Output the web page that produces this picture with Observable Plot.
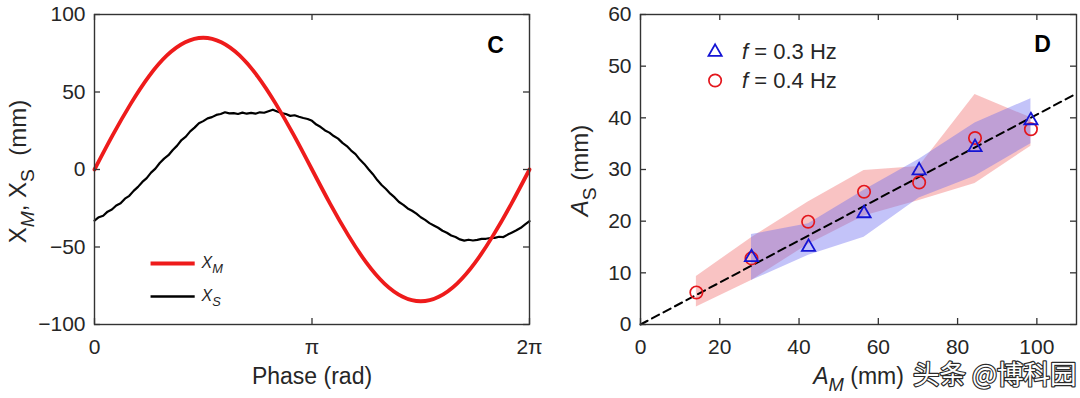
<!DOCTYPE html>
<html>
<head>
<meta charset="utf-8">
<script src="https://cdn.jsdelivr.net/npm/d3@7"></script>
<script src="https://cdn.jsdelivr.net/npm/@observablehq/plot@0.6"></script>
<style>
  body { margin: 0; background: #fff; }
  #wrap { position: relative; width: 1080px; height: 398px; overflow: hidden; background: #fff; }
  #wrap svg { position: absolute; top: 0; }
</style>
</head>
<body>
<div id="wrap"></div>
<script>
// ---------------- Panel C data (phase in units of π) ----------------
const phaseM = [0, 0.083, 0.167, 0.25, 0.333, 0.417, 0.5, 0.583, 0.667, 0.75, 0.833, 0.917, 1,
                1.083, 1.167, 1.25, 1.333, 1.417, 1.5, 1.583, 1.667, 1.75, 1.833, 1.917, 2];
const xM = [0, 22, 42.5, 60.1, 73.6, 82.1, 85, 82.1, 73.6, 60.1, 42.5, 22, 0,
            -22, -42.5, -60.1, -73.6, -82.1, -85, -82.1, -73.6, -60.1, -42.5, -22, 0];

const phaseS = [0, 0.02, 0.04, 0.06, 0.08, 0.10, 0.12, 0.14, 0.16, 0.18, 0.20, 0.22, 0.24, 0.26, 0.28, 0.30,
  0.32, 0.34, 0.36, 0.38, 0.40, 0.42, 0.44, 0.46, 0.48, 0.50, 0.52, 0.54, 0.56, 0.58, 0.60, 0.62, 0.64, 0.66,
  0.68, 0.70, 0.72, 0.74, 0.76, 0.78, 0.80, 0.82, 0.84, 0.86, 0.88, 0.90, 0.92, 0.94, 0.96, 0.98, 1.00,
  1.02, 1.04, 1.06, 1.08, 1.10, 1.12, 1.14, 1.16, 1.18, 1.20, 1.22, 1.24, 1.26, 1.28, 1.30, 1.32, 1.34,
  1.36, 1.38, 1.40, 1.42, 1.44, 1.46, 1.48, 1.50, 1.52, 1.54, 1.56, 1.58, 1.60, 1.62, 1.64, 1.66, 1.68,
  1.70, 1.72, 1.74, 1.76, 1.78, 1.80, 1.82, 1.84, 1.86, 1.88, 1.90, 1.92, 1.94, 1.96, 1.98, 2.00];
const xS = [-33.0, -30.8, -29.8, -27.2, -25.8, -23.2, -21.8, -18.8, -17.0, -13.8, -11.2, -8.0, -5.6, -2.0, 0.6, 4.2,
  7.0, 9.2, 12.6, 15.4, 19.0, 21.2, 24.6, 27.0, 29.8, 31.2, 33.0, 33.8, 35.2, 35.8, 36.9, 36.2, 36.4, 35.8,
  36.7, 36.0, 36.5, 36.0, 36.9, 36.6, 37.6, 38.6, 37.4, 36.4, 35.8, 34.6, 35.0, 34.0, 33.2, 32.6, 31.4,
  29.0, 27.4, 25.2, 23.8, 21.6, 19.9, 17.2, 15.1, 12.2, 9.9, 6.4, 3.6, 0.2, -3.0, -6.8, -10.0, -12.6,
  -15.6, -18.0, -21.0, -22.8, -25.1, -26.6, -28.5, -30.8, -32.5, -34.6, -36.1, -37.6, -39.5, -40.8, -42.6, -43.6, -45.1,
  -45.9, -45.3, -45.8, -45.4, -44.8, -44.7, -44.2, -44.1, -43.4, -43.6, -42.0, -40.6, -39.2, -37.6, -35.4, -33.3];

const phaseTicks = [0, 1, 2];
const phaseTickLabels = ["0", "π", "2π"];
const yTicksC = [-100, -50, 0, 50, 100];

// ---------------- Panel D data ----------------
const aM03 = [28, 42.4, 56.4, 70.3, 84.4, 98.5];
const aS03 = [13.0, 15.0, 21.5, 29.8, 34.3, 39.5];
const aS03lo = [8.5, 13.4, 16.9, 24.5, 28.7, 35.0];
const aS03hi = [17.4, 19.5, 26.0, 32.0, 39.0, 43.7];

const aM04 = [14.1, 28, 42.3, 56.4, 70.3, 84.4, 98.5];
const aS04 = [6.2, 12.8, 19.9, 25.7, 27.5, 36.1, 37.8];
const aS04lo = [3.4, 8.5, 15.5, 21.0, 24.0, 27.3, 34.5];
const aS04hi = [9.3, 16.8, 23.7, 29.8, 30.6, 44.5, 40.0];

const fitX = [0, 110];
const fitY = [0, 44.7];

const xTicksD = [0, 20, 40, 60, 80, 100];
const yTicksD = [0, 10, 20, 30, 40, 50, 60];

// ---------------- styling ----------------
const font = "'Liberation Sans', Arial, Helvetica, sans-serif";
const ink = "#262626";
const frameInk = "#333";
const H = 398, MT = 14, MB = 74;
const innerH = H - MT - MB;

// Rich text: *...* italic, _{...} subscript
function richify(el) {
  const src = el.textContent;
  const cs = getComputedStyle(el);
  const fs = parseFloat(cs.fontSize) || 21;
  const anchor = cs.textAnchor;
  el.textContent = "";
  let italic = false, sub = false, buf = "";
  const segs = [];
  const flush = () => { if (buf) { segs.push({t: buf, italic, sub}); buf = ""; } };
  for (let i = 0; i < src.length; i++) {
    const c = src[i];
    if (c === "*") { flush(); italic = !italic; }
    else if (c === "_" && src[i + 1] === "{") { flush(); sub = true; i++; }
    else if (c === "}" && sub) { flush(); sub = false; }
    else buf += c;
  }
  flush();
  let cur = 0;
  for (const s of segs) {
    const ts = document.createElementNS("http://www.w3.org/2000/svg", "tspan");
    const target = s.sub ? 0.32 : 0;
    const dy = (target - cur) * fs;
    if (dy) ts.setAttribute("dy", dy.toFixed(2));
    cur = target;
    if (s.sub) ts.setAttribute("font-size", (0.8 * fs).toFixed(1));
    if (s.italic) ts.setAttribute("font-style", "italic");
    ts.textContent = s.t;
    el.appendChild(ts);
  }
  if (anchor === "middle") {
    const len = el.getComputedTextLength();
    const x0 = parseFloat(el.getAttribute("x") || "0") || 0;
    el.setAttribute("text-anchor", "start");
    el.style.textAnchor = "start";
    el.setAttribute("x", (x0 - len / 2).toFixed(2));
  }
}

// ---------------- Panel C ----------------
const dataM = phaseM.map((p, i) => ({p, v: xM[i]}));
const dataS = phaseS.map((p, i) => ({p, v: xS[i]}));
const WC = 540, MLC = 94, MRC = 11, innerWC = WC - MLC - MRC;

const plotC = Plot.plot({
  width: WC, height: H,
  marginLeft: MLC, marginRight: MRC, marginTop: MT, marginBottom: MB,
  style: {fontFamily: font, fontSize: "21px", color: ink, background: "transparent", overflow: "visible"},
  x: {domain: [0, 2]},
  y: {domain: [-100, 100]},
  marks: [
    Plot.line(dataS, {x: "p", y: "v", stroke: "#000", strokeWidth: 2.2, curve: "linear"}),
    Plot.line(dataM, {x: "p", y: "v", stroke: "#ee1b1b", strokeWidth: 3.8, curve: "natural"}),
    Plot.frame({stroke: frameInk, strokeWidth: 1.4}),
    Plot.tickX(phaseTicks, {x: d => d, insetTop: innerH - 6, stroke: frameInk, strokeWidth: 1.3}),
    Plot.tickX(phaseTicks, {x: d => d, insetBottom: innerH - 6, stroke: frameInk, strokeWidth: 1.3}),
    Plot.tickY(yTicksC, {y: d => d, insetRight: innerWC - 6, stroke: frameInk, strokeWidth: 1.3}),
    Plot.tickY(yTicksC, {y: d => d, insetLeft: innerWC - 6, stroke: frameInk, strokeWidth: 1.3}),
    Plot.axisX({ticks: phaseTicks, tickSize: 0, tickPadding: 15, label: null, fontSize: 21,
      tickFormat: d => phaseTickLabels[phaseTicks.indexOf(d)]}),
    Plot.axisY({ticks: yTicksC, tickSize: 0, tickPadding: 9, label: null, fontSize: 21}),
    Plot.text(["Phase (rad)"], {text: d => d, frameAnchor: "bottom", lineAnchor: "middle", textAnchor: "middle", dy: 52, fontSize: 23, fill: ink}),
    Plot.text(["X_{*M*},\u00a0X_{S}\u00a0\u00a0(mm)"], {text: d => d, frameAnchor: "left", lineAnchor: "middle", textAnchor: "middle", dx: -76, dy: 2, rotate: -90, fontSize: 24, fill: ink}),
    Plot.text(["C"], {text: d => d, frameAnchor: "top-right", lineAnchor: "middle", textAnchor: "middle", dx: -34, dy: 31, fontSize: 23, fontWeight: "bold", fill: "#000"}),
    // legend
    Plot.ruleY([-60.6], {x1: 0.26, x2: 0.463, stroke: "#ee1b1b", strokeWidth: 4}),
    Plot.ruleY([-81.9], {x1: 0.26, x2: 0.463, stroke: "#000", strokeWidth: 2.4}),
    Plot.text(["*X*_{*M*}"], {text: d => d, frameAnchor: "top-left", lineAnchor: "middle", dx: 107, dy: 248, textAnchor: "start", fontSize: 16, fill: ink}),
    Plot.text(["*X*_{*S*}"], {text: d => d, frameAnchor: "top-left", lineAnchor: "middle", dx: 107, dy: 281, textAnchor: "start", fontSize: 16, fill: ink})
  ]
});

// ---------------- Panel D ----------------
const band03 = aM03.map((x, i) => ({x, lo: aS03lo[i], hi: aS03hi[i]}));
const band04 = aM04.map((x, i) => ({x, lo: aS04lo[i], hi: aS04hi[i]}));
const pts03 = aM03.map((x, i) => ({x, y: aS03[i]}));
const pts04 = aM04.map((x, i) => ({x, y: aS04[i]}));
const fit = fitX.map((x, i) => ({x, y: fitY[i]}));
const WD = 540, MLD = 100, MRD = 4, innerWD = WD - MLD - MRD;
const blue = "#1414d4", red = "#e3161c";

const plotD = Plot.plot({
  width: WD, height: H,
  marginLeft: MLD, marginRight: MRD, marginTop: MT, marginBottom: MB,
  style: {fontFamily: font, fontSize: "21px", color: ink, background: "transparent", overflow: "visible"},
  x: {domain: [0, 110]},
  y: {domain: [0, 60]},
  marks: [
    Plot.areaY(band04, {x: "x", y1: "lo", y2: "hi", fill: "#f07070", fillOpacity: 0.42, curve: "linear"}),
    Plot.areaY(band03, {x: "x", y1: "lo", y2: "hi", fill: "#6a6af0", fillOpacity: 0.4, curve: "linear"}),
    Plot.line(fit, {x: "x", y: "y", stroke: "#000", strokeWidth: 2, strokeDasharray: "8,5"}),
    Plot.dot(pts04, {x: "x", y: "y", symbol: "circle", r: 6.2, stroke: red, strokeWidth: 1.7, fill: "none"}),
    Plot.dot(pts03, {x: "x", y: "y", symbol: "triangle", r: 4.9, stroke: blue, strokeWidth: 1.8, fill: "none"}),
    Plot.frame({stroke: frameInk, strokeWidth: 1.4}),
    Plot.tickX(xTicksD, {x: d => d, insetTop: innerH - 6, stroke: frameInk, strokeWidth: 1.3}),
    Plot.tickX(xTicksD, {x: d => d, insetBottom: innerH - 6, stroke: frameInk, strokeWidth: 1.3}),
    Plot.tickY(yTicksD, {y: d => d, insetRight: innerWD - 6, stroke: frameInk, strokeWidth: 1.3}),
    Plot.tickY(yTicksD, {y: d => d, insetLeft: innerWD - 6, stroke: frameInk, strokeWidth: 1.3}),
    Plot.axisX({ticks: xTicksD, tickSize: 0, tickPadding: 15, label: null, fontSize: 21}),
    Plot.axisY({ticks: yTicksD, tickSize: 0, tickPadding: 9, label: null, fontSize: 21}),
    Plot.text(["*A*_{*M*} (mm)"], {text: d => d, frameAnchor: "bottom", lineAnchor: "middle", textAnchor: "middle", dy: 52, fontSize: 23, fill: ink}),
    Plot.text(["*A*_{S} (mm)"], {text: d => d, frameAnchor: "left", lineAnchor: "middle", textAnchor: "middle", dx: -60, dy: 1, rotate: -90, fontSize: 24, fill: ink}),
    Plot.text(["D"], {text: d => d, frameAnchor: "top-right", lineAnchor: "middle", textAnchor: "middle", dx: -34, dy: 30, fontSize: 23, fontWeight: "bold", fill: "#000"}),
    // legend
    Plot.dot([0], {frameAnchor: "top-left", dx: 74.6, dy: 37.5, symbol: "triangle", r: 4.9, stroke: blue, strokeWidth: 1.8, fill: "none"}),
    Plot.dot([0], {frameAnchor: "top-left", dx: 74.6, dy: 66, symbol: "circle", r: 6.2, stroke: red, strokeWidth: 1.7, fill: "none"}),
    Plot.text(["*f* = 0.3 Hz"], {text: d => d, frameAnchor: "top-left", lineAnchor: "middle", dx: 101.5, dy: 37, textAnchor: "start", fontSize: 22, fill: ink}),
    Plot.text(["*f* = 0.4 Hz"], {text: d => d, frameAnchor: "top-left", lineAnchor: "middle", dx: 101.5, dy: 66, textAnchor: "start", fontSize: 22, fill: ink}),
    // watermark
    Plot.text(["头条 @博科园"], {text: d => d, frameAnchor: "bottom-right", lineAnchor: "middle", dx: 0, dy: 51, textAnchor: "end",
      fontSize: 26.5, fontFamily: "'Noto Sans CJK SC', sans-serif", fill: "#fff", stroke: "#2a2a2a", strokeWidth: 2.4})
  ]
});

const wrap = document.getElementById("wrap");
plotC.style.left = "0px";
plotD.style.left = "540px";
wrap.appendChild(plotC);
wrap.appendChild(plotD);

for (const svg of [plotC, plotD]) {
  svg.querySelectorAll("text").forEach(t => {
    if (/[*_]/.test(t.textContent)) richify(t);
  });
}
</script>
</body>
</html>
